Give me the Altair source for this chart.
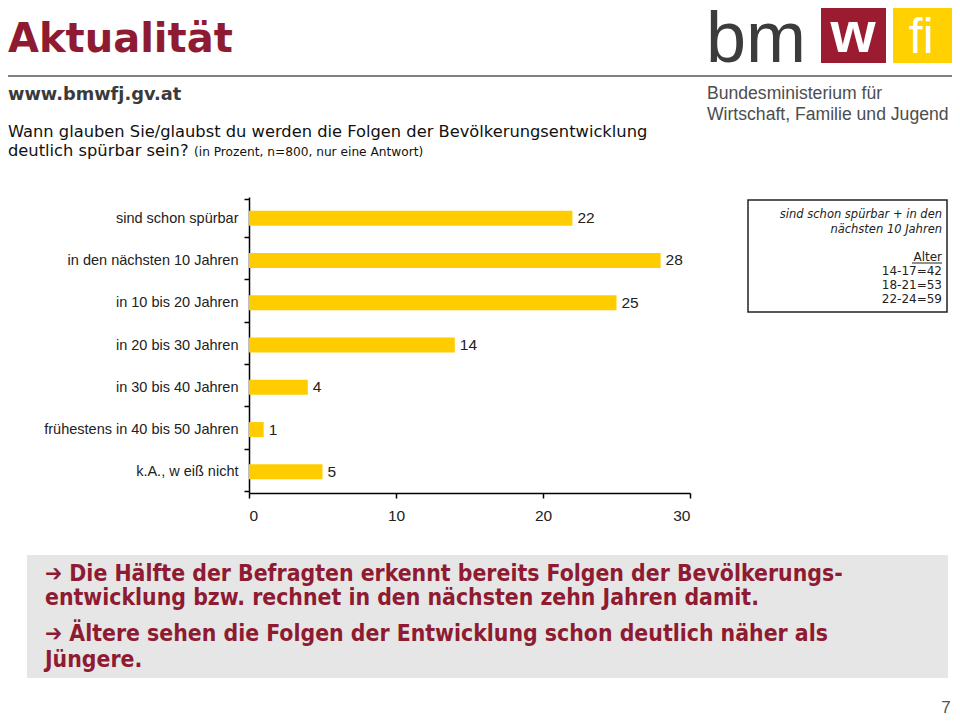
import altair as alt
import pandas as pd

# ---- data ----
categories = [
    "sind schon spürbar",
    "in den nächsten 10 Jahren",
    "in 10 bis 20 Jahren",
    "in 20 bis 30 Jahren",
    "in 30 bis 40 Jahren",
    "frühestens in 40 bis 50 Jahren",
    "k.A., w eiß nicht",
]
values = [22, 28, 25, 14, 4, 1, 5]
x_ticks = [0, 10, 20, 30]

title_text = "Aktualität"
url_text = "www.bmwfj.gv.at"
question_lines = [
    "Wann glauben Sie/glaubst du werden die Folgen der Bevölkerungsentwicklung",
    "deutlich spürbar sein?",
]
question_note = "(in Prozent, n=800, nur eine Antwort)"
logo_lines = ["Bundesministerium für", "Wirtschaft, Familie und Jugend"]
box_lines_italic = ["sind schon spürbar + in den", "nächsten 10 Jahren"]
box_header = "Alter"
box_lines = ["14-17=42", "18-21=53", "22-24=59"]
summary_lines = [
    "➔ Die Hälfte der Befragten erkennt bereits Folgen der Bevölkerungs-",
    "entwicklung bzw. rechnet in den nächsten zehn Jahren damit.",
    "➔ Ältere sehen die Folgen der Entwicklung schon deutlich näher als",
    "Jüngere.",
]
page_number = "7"

df = pd.DataFrame({"cat": categories, "val": values})

# plot-area origin in page coordinates
X0, Y0 = 249, 197
PW, PH = 441, 296
CW, CH = 944, 710
RED = "#8E1B31"
COND = "'DejaVu Sans Condensed', 'DejaVu Sans'"


def T(text, x, y, size, color="#222222", font="DejaVu Sans", weight="normal",
      style="normal", align="left", baseline="alphabetic"):
    return alt.Chart(alt.Data(values=[{}])).mark_text(
        text=text, font=font, fontSize=size, fontWeight=weight, fontStyle=style,
        color=color, align=align, baseline=baseline
    ).encode(x=alt.value(x - X0), y=alt.value(y - Y0))


def R(x1, y1, x2, y2, fill, stroke=None, sw=0):
    kw = dict(fill=fill)
    if stroke:
        kw.update(stroke=stroke, strokeWidth=sw)
    else:
        kw.update(strokeWidth=0)
    return alt.Chart(alt.Data(values=[{}])).mark_rect(**kw).encode(
        x=alt.value(x1 - X0), x2=alt.value(x2 - X0),
        y=alt.value(y1 - Y0), y2=alt.value(y2 - Y0))


def L(x1, y1, x2, y2, color, sw):
    return alt.Chart(alt.Data(values=[{}])).mark_rule(color=color, strokeWidth=sw).encode(
        x=alt.value(x1 - X0), x2=alt.value(x2 - X0),
        y=alt.value(y1 - Y0), y2=alt.value(y2 - Y0))


ycat = alt.Y("cat:N", sort=categories, title=None,
             axis=alt.Axis(tickBand="extent", tickSize=5, tickColor="#000000",
                           domainColor="#000000", domainWidth=1.5, tickWidth=1.5,
                           labelFont="Liberation Sans", labelFontSize=14.5,
                           labelColor="#222222", labelPadding=6, labelLimit=300))
xval = alt.X("val:Q", title=None,
             scale=alt.Scale(domain=[0, 30], nice=False),
             axis=alt.Axis(values=x_ticks, grid=False, tickSize=5, tickColor="#000000",
                           domainColor="#000000", domainWidth=1.5, tickWidth=1.5,
                           labelFont="Liberation Sans", labelFontSize=15.5,
                           labelColor="#222222", labelPadding=10))

bars = alt.Chart(df).mark_bar(color="#FFCC00", size=15).encode(y=ycat, x=xval)
labels = alt.Chart(df).mark_text(align="left", dx=5, font="Liberation Sans",
                                 fontSize=15.5, color="#222222").encode(
    y=alt.Y("cat:N", sort=categories), x="val:Q", text="val:Q")

layers = [
    # header
    T(title_text, 8, 52, 40, color=RED, weight="bold"),
    L(8, 76, 952, 76, "#808080", 2),
    T(url_text, 8, 100, 17.8, color="#3a3a3a", weight="bold"),
    T(question_lines[0], 8, 137, 16.3, color="#111111"),
    T(question_lines[1], 8, 156, 16.3, color="#111111"),
    T(question_note, 194, 156, 12.2, color="#111111"),
    # logo
    R(821, 8, 886, 63, "#9B1C31"),
    R(893, 8, 952, 63, "#FFD100"),
    T("bm", 706, 62, 72, color="#3c3c3c", font="Liberation Sans"),
    T("w", 853, 52, 58, color="#ffffff", font="Liberation Sans", weight="bold", align="center"),
    T("fi", 921, 53, 50, color="#ffffff", font="Liberation Sans", align="center"),
    T(logo_lines[0], 707, 99, 17.6, color="#4d4d4d", font="Liberation Sans"),
    T(logo_lines[1], 707, 120, 17.6, color="#4d4d4d", font="Liberation Sans"),
    # side box
    R(748, 200, 947, 312, "#ffffff", stroke="#222222", sw=1.5),
    T(box_lines_italic[0], 942, 218, 11.5, style="italic", align="right"),
    T(box_lines_italic[1], 942, 233, 11.5, style="italic", align="right"),
    T(box_header, 942, 261, 12, align="right"),
    L(912, 263, 942, 263, "#222222", 1),
    T(box_lines[0], 942, 275, 12, align="right"),
    T(box_lines[1], 942, 289, 12, align="right"),
    T(box_lines[2], 942, 303, 12, align="right"),
    # bottom summary box
    R(27, 555, 948, 678, "#E6E6E6"),
    T(summary_lines[0], 45, 581, 22.8, color=RED, font=COND, weight="bold"),
    T(summary_lines[1], 45, 605, 22.8, color=RED, font=COND, weight="bold"),
    T(summary_lines[2], 45, 641, 22.8, color=RED, font=COND, weight="bold"),
    T(summary_lines[3], 45, 667, 22.8, color=RED, font=COND, weight="bold"),
    T(page_number, 946, 713, 17, color="#555555", font="Liberation Sans", align="center"),
    # chart
    bars,
    labels,
]

chart = alt.layer(*layers).properties(
    width=PW, height=PH,
    padding={"left": X0 - 8, "top": Y0 - 8, "right": CW - (X0 - 8) - PW,
             "bottom": CH - (Y0 - 8) - PH},
    autosize=alt.AutoSizeParams(type="none"),
    background="#ffffff",
).configure_view(strokeWidth=0)

chart.save("out.html", embed_options={"renderer": "svg", "actions": False})
